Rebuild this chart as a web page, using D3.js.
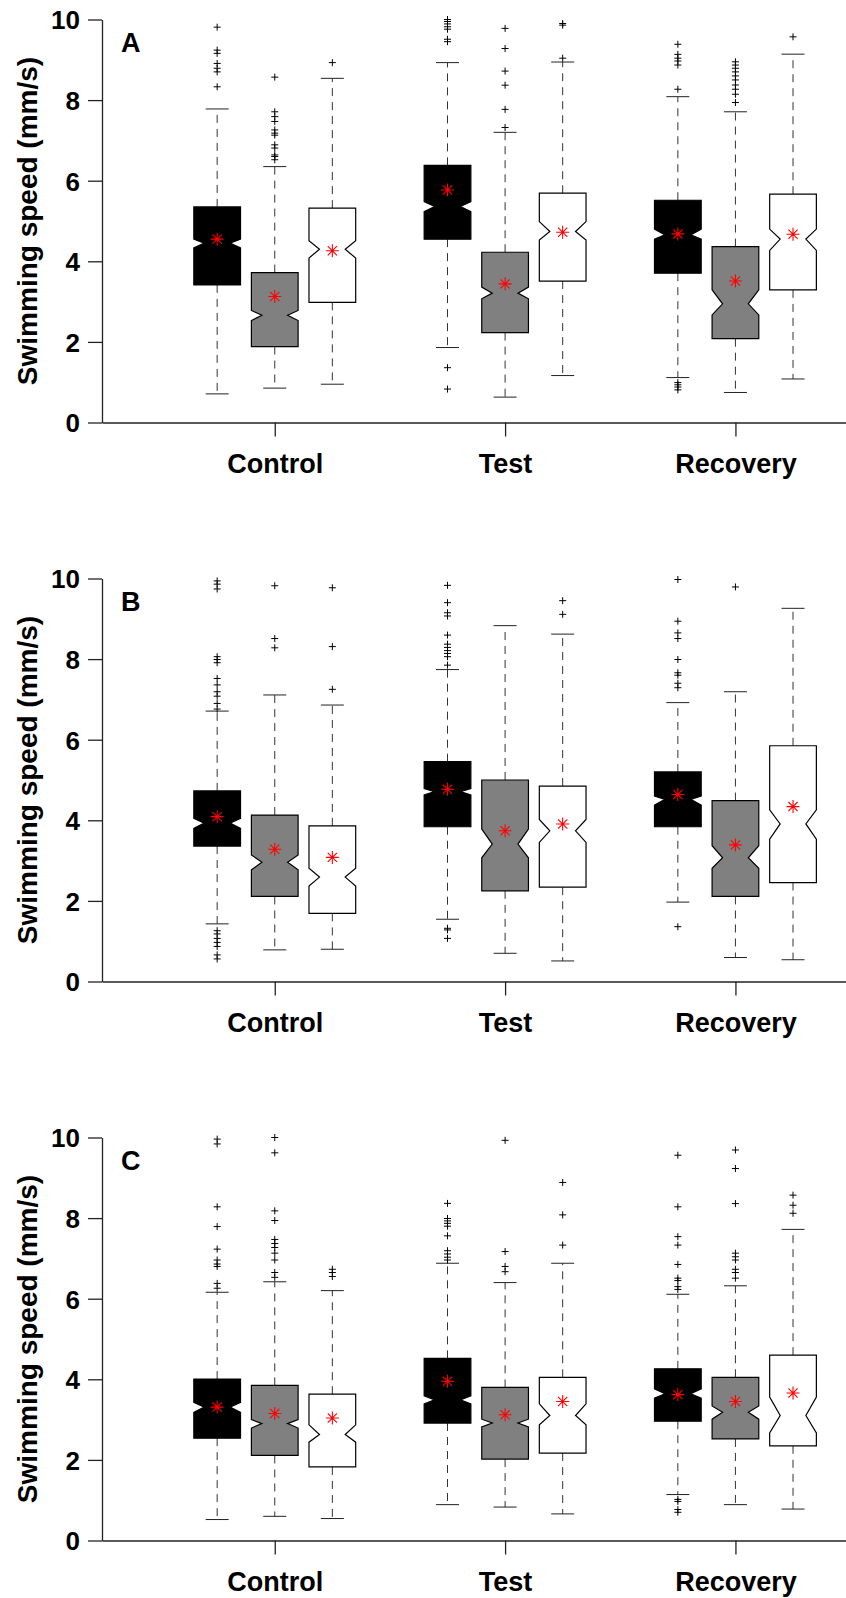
<!DOCTYPE html>
<html>
<head>
<meta charset="utf-8">
<script src="https://cdn.jsdelivr.net/npm/d3@7"></script>
<style>
    body { margin: 0; background: #fff; }
    text { font-family: "Liberation Sans", Arial, sans-serif; font-weight: bold; fill: #000; }
</style>
</head>
<body>
<div id="chart"></div>
<script>
// groups on the x axis and the three boxes (series) in each group
const groups = ["Control", "Test", "Recovery"];
const series = ["black", "grey", "white"];
const panels = ["A", "B", "C"];
const yTicks = [0, 2, 4, 6, 8, 10];

// one row per box: Control black/grey/white, Test ..., Recovery ...
// [lowWhisker, q1, notchLow, median, notchHigh, q3, highWhisker, mean]
const statsA = [
    [0.71, 3.415, 4.33, 4.45, 4.55, 5.35, 7.78, 4.55],
    [0.853, 1.885, 2.53, 2.66, 2.78, 3.72, 6.35, 3.125],
    [0.95, 2.98, 4.08, 4.30, 4.51, 5.32, 8.54, 4.26],
    [1.86, 4.55, 5.23, 5.36, 5.48, 6.38, 8.93, 5.77],
    [0.63, 2.23, 3.07, 3.21, 3.36, 4.225, 7.20, 3.44],
    [1.165, 3.51, 4.53, 4.74, 4.985, 5.69, 8.945, 4.72],
    [1.115, 3.705, 4.55, 4.655, 4.80, 5.515, 8.085, 4.68],
    [0.745, 2.08, 2.67, 2.945, 3.29, 4.365, 7.71, 3.51],
    [1.08, 3.29, 4.27, 4.55, 4.80, 5.665, 9.14, 4.67]
];
const outliersA = [
    [9.81, 9.24, 9.16, 8.91, 8.79, 8.70, 8.33],
    [8.57, 7.71, 7.59, 7.47, 7.26, 7.18, 7.13, 6.89, 6.81, 6.64, 6.60, 6.52],
    [8.93],
    [10.0, 9.95, 9.89, 9.82, 9.76, 9.51, 9.45, 1.36, 0.83],
    [9.78, 9.28, 8.72, 8.37, 7.77, 7.32],
    [9.90, 9.86, 9.04],
    [9.385, 9.135, 9.04, 8.97, 8.87, 8.27, 0.99, 0.935, 0.88, 0.81],
    [8.95, 8.87, 8.79, 8.70, 8.60, 8.50, 8.375, 8.27, 8.145, 7.94],
    [9.57]
];

const statsB = [
    [1.43, 3.36, 3.80, 3.93, 4.05, 4.73, 6.71, 4.09],
    [0.785, 2.11, 2.77, 2.96, 3.14, 4.13, 7.11, 3.28],
    [0.80, 1.69, 2.37, 2.59, 2.81, 3.86, 6.86, 3.08],
    [1.545, 3.84, 4.63, 4.71, 4.79, 5.455, 7.74, 4.77],
    [0.70, 2.25, 3.07, 3.41, 3.78, 5.0, 8.83, 3.74],
    [0.51, 2.34, 3.45, 3.74, 4.02, 4.85, 8.62, 3.91],
    [1.97, 3.84, 4.38, 4.52, 4.60, 5.20, 6.92, 4.64],
    [0.595, 2.11, 2.81, 3.07, 3.37, 4.49, 7.19, 3.39],
    [0.54, 2.455, 3.53, 3.91, 4.26, 5.85, 9.26, 4.34]
];
const outliersB = [
    [9.94, 9.86, 9.74, 8.06, 7.99, 7.91, 7.52, 7.36, 7.19, 7.08, 6.90, 6.76, 1.26, 1.18, 1.07, 0.97, 0.87, 0.66, 0.56],
    [9.82, 8.51, 8.28],
    [9.77, 8.31, 7.25],
    [9.83, 9.40, 9.15, 9.07, 8.595, 8.37, 8.29, 8.21, 8.14, 8.06, 7.85, 1.32, 1.28, 1.07],
    [],
    [9.45, 9.11],
    [9.975, 8.94, 8.65, 8.51, 7.99, 7.66, 7.60, 7.40, 7.29, 1.36],
    [9.79],
    []
];

const statsC = [
    [0.52, 2.54, 3.18, 3.31, 3.43, 4.005, 6.16, 3.31],
    [0.60, 2.11, 2.79, 2.90, 3.00, 3.85, 6.42, 3.15],
    [0.545, 1.825, 2.44, 2.63, 2.87, 3.63, 6.20, 3.04],
    [0.89, 2.915, 3.39, 3.49, 3.59, 4.52, 6.88, 3.95],
    [0.83, 2.02, 2.82, 2.915, 3.01, 3.80, 6.40, 3.12],
    [0.66, 2.17, 2.87, 3.10, 3.39, 4.05, 6.88, 3.45],
    [1.14, 2.96, 3.53, 3.64, 3.76, 4.26, 6.11, 3.62],
    [0.89, 2.52, 3.01, 3.18, 3.34, 4.05, 6.32, 3.45],
    [0.78, 2.35, 2.67, 3.10, 3.56, 4.60, 7.72, 3.66]
];
const outliersC = [
    [9.96, 9.84, 8.28, 7.79, 7.23, 6.96, 6.86, 6.80, 6.38, 6.26],
    [10.0, 9.62, 8.18, 7.94, 7.47, 7.37, 7.27, 7.13, 6.96, 6.65, 6.53],
    [6.73, 6.65, 6.55],
    [8.365, 7.99, 7.93, 7.87, 7.80, 7.56, 7.19, 7.11, 7.03, 6.96],
    [9.93, 7.17, 6.80, 6.67],
    [8.885, 8.08, 7.33],
    [9.56, 8.28, 7.54, 7.33, 6.85, 6.51, 6.45, 6.30, 6.23, 1.02, 0.97, 0.77, 0.70],
    [9.69, 9.23, 8.36, 7.13, 7.04, 6.96, 6.73, 6.65, 6.51],
    [8.57, 8.32, 8.12]
];

const allStats = [statsA, statsB, statsC];
const allOutliers = [outliersA, outliersB, outliersC];

// layout
const W = 846, H = 1598;
const panelTop = [19.5, 578.5, 1137.5],
    panelH = 403;
const boxW = 46.7, notchD = 10.5, capW = 23;

const fill = d3.scaleOrdinal().domain(series).range(["#000000", "#808080", "#ffffff"]);

// groups at 1, 2, 3; boxes at +/- 0.25
const x = d3.scaleLinear().domain([0.25, 3.48]).range([102, W]);

const svg = d3.select("#chart").append("svg")
    .attr("width", W)
    .attr("height", H);

panels.forEach((letter, p) => {
    const y = d3.scaleLinear().domain([0, 10]).range([panelTop[p] + panelH, panelTop[p]]);
    const g = svg.append("g");

    // boxes
    const rows = allStats[p].map((s, i) => ({
        s: s,
        out: allOutliers[p][i],
        cx: x(Math.floor(i / 3) + 1 + (i % 3 - 1) * 0.25),
        kind: series[i % 3]
    }));

    const box = g.selectAll("g.box").data(rows).enter()
        .append("g").attr("class", "box");

    // dashed whiskers
    box.append("line")
        .attr("x1", d => d.cx).attr("x2", d => d.cx)
        .attr("y1", d => y(d.s[5])).attr("y2", d => y(d.s[6]))
        .attr("stroke", "#333").attr("stroke-width", 1)
        .attr("stroke-dasharray", "8,6");
    box.append("line")
        .attr("x1", d => d.cx).attr("x2", d => d.cx)
        .attr("y1", d => y(d.s[1])).attr("y2", d => y(d.s[0]))
        .attr("stroke", "#333").attr("stroke-width", 1)
        .attr("stroke-dasharray", "8,6");

    // whisker caps
    [0, 6].forEach(k => {
        box.append("line")
            .attr("x1", d => d.cx - capW / 2).attr("x2", d => d.cx + capW / 2)
            .attr("y1", d => y(d.s[k])).attr("y2", d => y(d.s[k]))
            .attr("stroke", "#222").attr("stroke-width", 1);
    });

    // notched box
    box.append("path")
        .attr("d", d => {
            const l = d.cx - boxW / 2, r = d.cx + boxW / 2;
            const pts = [
                [l, y(d.s[1])], [l, y(d.s[2])], [l + notchD, y(d.s[3])], [l, y(d.s[4])],
                [l, y(d.s[5])], [r, y(d.s[5])], [r, y(d.s[4])], [r - notchD, y(d.s[3])],
                [r, y(d.s[2])], [r, y(d.s[1])]
            ];
            return d3.line()(pts) + "Z";
        })
        .attr("fill", d => fill(d.kind))
        .attr("stroke", "#000")
        .attr("stroke-width", 1.2)
        .attr("stroke-linejoin", "miter");

    // outliers as '+'
    box.each(function (d) {
        d3.select(this).selectAll("path.out").data(d.out).enter()
            .append("path").attr("class", "out")
            .attr("d", v => `M${d.cx - 3.5},${y(v)}h7M${d.cx},${y(v) - 3.5}v7`)
            .attr("stroke", "#000").attr("stroke-width", 1).attr("fill", "none");
    });

    // mean as red asterisk
    box.append("path")
        .attr("d", d => {
            const cy = y(d.s[7]), r = 6.5, q = 4.6;
            return `M${d.cx - r},${cy}h${2 * r}M${d.cx},${cy - r}v${2 * r}` +
                `M${d.cx - q},${cy - q}l${2 * q},${2 * q}M${d.cx - q},${cy + q}l${2 * q},${-2 * q}`;
        })
        .attr("stroke", "#ff0000").attr("stroke-width", 1.1).attr("fill", "none");

    // y axis
    const yAxis = g.append("g")
        .attr("transform", `translate(102,0)`)
        .call(d3.axisLeft(y).tickValues(yTicks).tickFormat(d3.format("d"))
            .tickSize(14).tickSizeOuter(0).tickPadding(8));
    yAxis.selectAll("text").style("font-size", "26px").attr("dy", "0.36em");

    // x axis
    const xAxis = g.append("g")
        .attr("transform", `translate(0,${y(0)})`)
        .call(d3.axisBottom(x).tickValues([1, 2, 3]).tickFormat(i => groups[i - 1])
            .tickSize(14).tickSizeOuter(0).tickPadding(17));
    xAxis.selectAll("text").style("font-size", "27px");

    svg.selectAll(".domain, .tick line").attr("stroke", "#222").attr("stroke-width", 1.3);

    // panel letter
    g.append("text")
        .attr("x", 121)
        .attr("y", panelTop[p] + 32)
        .style("font-size", "27px")
        .text(letter);

    // y label
    g.append("text")
        .attr("transform", `translate(36.5,${panelTop[p] + panelH / 2}) rotate(-90)`)
        .attr("text-anchor", "middle")
        .style("font-size", "28px")
        .text("Swimming speed (mm/s)");
});
</script>
</body>
</html>
